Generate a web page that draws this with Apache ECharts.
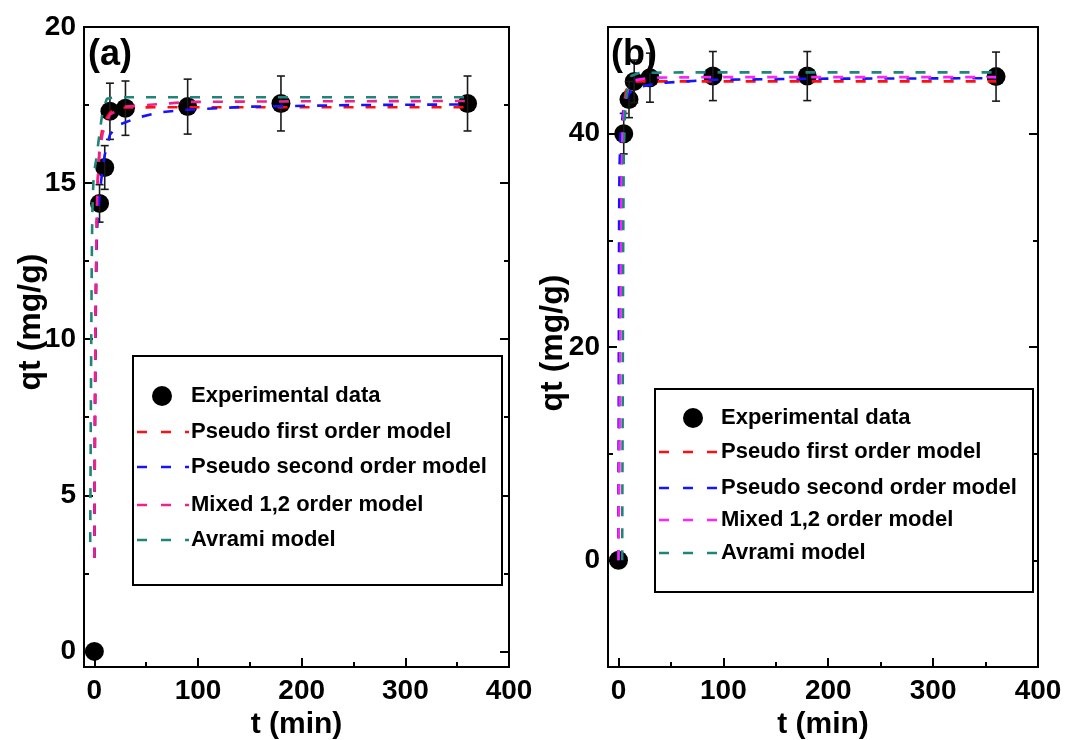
<!DOCTYPE html>
<html>
<head>
<meta charset="utf-8">
<script src="https://cdn.jsdelivr.net/npm/echarts@6/dist/echarts.min.js"></script>
<style>
  html, body { margin: 0; padding: 0; background: #fff; }
  #chart { width: 1067px; height: 740px; }
</style>
</head>
<body>
<div id="chart"></div>
<script>
// ---------- Panel (a) ----------
const expTimeA = [0, 5, 10, 15, 30, 90, 180, 360];
const expQtA   = [0, 14.35, 15.5, 17.3, 17.4, 17.45, 17.55, 17.55];
const expErrA  = [0, 0.6, 0.7, 0.9, 0.87, 0.88, 0.88, 0.88];

const pfoTimeA = [0, 0.5, 1, 2, 3, 5, 8, 11, 15, 20, 30, 60, 120, 200, 360];
const pfoQtA   = [3.0, 6.5, 9.5, 13.0, 14.8, 16.2, 16.8, 17.05, 17.25, 17.37, 17.42, 17.43, 17.43, 17.43, 17.43];

const psoTimeA = [0, 0.5, 1, 2, 3, 5, 8, 10, 15, 23, 42, 64, 90, 150, 250, 360];
const psoQtA   = [3.0, 7.0, 10.0, 12.8, 13.8, 14.6, 15.5, 15.9, 16.55, 16.86, 17.1, 17.27, 17.35, 17.45, 17.5, 17.52];

const mixTimeA = [0, 0.5, 1, 2, 3, 5, 8, 10, 15, 30, 90, 200, 360];
const mixQtA   = [3.0, 7.5, 10.5, 13.5, 15.0, 16.0, 16.6, 16.8, 17.2, 17.45, 17.6, 17.62, 17.63];

const avrTimeA = [-4, -3.5, -3, -2.5, -2, -1, 0, 2, 5, 8, 12, 20, 60, 200, 360];
const avrQtA   = [3.5, 7.0, 10.0, 12.5, 14.0, 15.0, 15.4, 15.8, 16.6, 17.3, 17.7, 17.75, 17.75, 17.75, 17.75];

// ---------- Panel (b) ----------
const expTimeB = [0, 5, 10, 15, 30, 90, 180, 360];
const expQtB   = [0, 40.0, 43.2, 44.9, 45.25, 45.4, 45.4, 45.35];
const expErrB  = [0, 1.9, 1.7, 2.0, 2.3, 2.3, 2.3, 2.3];

const pfoTimeB = [0, 0.5, 1, 1.5, 2, 3, 4, 5, 7, 10, 15, 20, 50, 360];
const pfoQtB   = [0, 10, 18, 25, 30, 37, 40.5, 42.5, 44.0, 44.6, 44.85, 44.9, 44.9, 44.9];

const psoTimeB = [0, 0.3, 0.6, 1, 2, 5, 10, 20, 40, 90, 180, 360];
const psoQtB   = [0, 20, 32, 37, 40, 42.5, 43.8, 44.4, 44.75, 45.05, 45.15, 45.2];

const mixTimeB = [0, 1, 2, 3, 4, 6, 10, 15, 30, 90, 360];
const mixQtB   = [0, 12, 25, 36, 40.5, 43, 44.5, 45.0, 45.25, 45.3, 45.3];

const avrTimeB = [3.5, 4, 4.5, 5, 6, 8, 12, 20, 60, 360];
const avrQtB   = [0, 15, 30, 38, 41.5, 44.0, 45.4, 45.7, 45.75, 45.75];

// ---------- Axis ticks and labels ----------
const xMajorTicks = [0, 100, 200, 300, 400];
const xMinorTicks = [50, 150, 250, 350];
const yMajorTicksA = [0, 5, 10, 15, 20];
const yMinorTicksA = [2.5, 7.5, 12.5, 17.5];
const yMajorTicksB = [0, 20, 40];
const yMinorTicksB = [10, 30];

const seriesNames = ['Experimental data', 'Pseudo first order model', 'Pseudo second order model', 'Mixed 1,2 order model', 'Avrami model'];
const colorsA = ['#000000', '#ff1010', '#1414ff', '#f0208c', '#1f857a'];
const colorsB = ['#000000', '#ff1010', '#1414ff', '#ff22ff', '#1f857a'];

const FONT = '"Liberation Sans", Arial, sans-serif';
const TICK_FONT = 28;
const TITLE_FONT = 30;
const LEGEND_FONT = 22;

function zip(xs, ys) { return xs.map((x, i) => [x, ys[i]]); }

const chart = echarts.init(document.getElementById('chart'), null, { renderer: 'canvas' });

const grids = [
  { left: 84, top: 27, width: 425, height: 640 },
  { left: 608, top: 27, width: 430, height: 640 }
];

function xAxesFor(gridIndex) {
  const base = {
    type: 'value', gridIndex, min: -10, max: 400, position: 'bottom',
    splitLine: { show: false }
  };
  return [
    Object.assign({}, base, {
      name: 't (min)', nameLocation: 'middle', nameGap: 40,
      nameTextStyle: { fontFamily: FONT, fontWeight: 'bold', fontSize: TITLE_FONT, color: '#000' },
      axisLine: { show: true, onZero: false, lineStyle: { color: '#000', width: 2 } },
      axisTick: { show: true, inside: true, length: 9, customValues: xMajorTicks, lineStyle: { color: '#000', width: 2 } },
      axisLabel: { show: true, customValues: xMajorTicks, margin: 10, fontFamily: FONT, fontWeight: 'bold', fontSize: TICK_FONT, color: '#000' }
    }),
    Object.assign({}, base, {
      axisLine: { show: false, onZero: false },
      axisTick: { show: true, inside: true, length: 5, customValues: xMinorTicks, lineStyle: { color: '#000', width: 2 } },
      axisLabel: { show: false }
    })
  ];
}

function yAxesFor(gridIndex, min, max, majors, minors) {
  const base = { type: 'value', gridIndex, min, max, splitLine: { show: false } };
  const axes = [];
  ['left', 'right'].forEach(pos => {
    axes.push(Object.assign({}, base, {
      position: pos,
      axisLine: { show: true, onZero: false, lineStyle: { color: '#000', width: 2 } },
      axisTick: { show: true, inside: true, length: 9, customValues: majors, lineStyle: { color: '#000', width: 2 } },
      axisLabel: pos === 'left'
        ? { show: true, customValues: majors, margin: 8, fontFamily: FONT, fontWeight: 'bold', fontSize: TICK_FONT, color: '#000' }
        : { show: false }
    }));
    axes.push(Object.assign({}, base, {
      position: pos,
      axisLine: { show: false, onZero: false },
      axisTick: { show: true, inside: true, length: 5, customValues: minors, lineStyle: { color: '#000', width: 2 } },
      axisLabel: { show: false }
    }));
  });
  return axes;
}

const xAxes = xAxesFor(0).concat(xAxesFor(1));          // indices 0,1 | 2,3
const yAxes = yAxesFor(0, -0.5, 20, yMajorTicksA, yMinorTicksA)   // 0..3
  .concat(yAxesFor(1, -10, 50, yMajorTicksB, yMinorTicksB));     // 4..7

function errorBarSeries(xIdx, yIdx, times, qts, errs) {
  const data = times.map((t, i) => [t, qts[i] - errs[i], qts[i] + errs[i]]).filter((d, i) => errs[i] > 0);
  return {
    type: 'custom', xAxisIndex: xIdx, yAxisIndex: yIdx, z: 3, silent: true,
    encode: { x: 0, y: [1, 2] },
    data,
    renderItem(params, api) {
      const lo = api.coord([api.value(0), api.value(1)]);
      const hi = api.coord([api.value(0), api.value(2)]);
      const cap = 4;
      const style = { stroke: '#1a1a1a', lineWidth: 1.6 };
      return {
        type: 'group',
        children: [
          { type: 'line', shape: { x1: lo[0], y1: lo[1], x2: hi[0], y2: hi[1] }, style },
          { type: 'line', shape: { x1: lo[0] - cap, y1: lo[1], x2: lo[0] + cap, y2: lo[1] }, style },
          { type: 'line', shape: { x1: hi[0] - cap, y1: hi[1], x2: hi[0] + cap, y2: hi[1] }, style }
        ]
      };
    }
  };
}

function scatterSeries(xIdx, yIdx, times, qts) {
  return {
    name: seriesNames[0], type: 'scatter', xAxisIndex: xIdx, yAxisIndex: yIdx, z: 2,
    symbol: 'circle', symbolSize: 19, itemStyle: { color: '#000', opacity: 1 },
    data: zip(times, qts)
  };
}

function modelSeries(xIdx, yIdx, name, color, times, qts) {
  return {
    name, type: 'line', xAxisIndex: xIdx, yAxisIndex: yIdx, z: 4,
    showSymbol: false, symbol: 'none', smooth: false, silent: true,
    lineStyle: { color, width: 2.6, type: [10, 12] },
    data: zip(times, qts)
  };
}

const series = [
  scatterSeries(0, 0, expTimeA, expQtA),
  errorBarSeries(0, 0, expTimeA, expQtA, expErrA),
  modelSeries(0, 0, seriesNames[1], colorsA[1], pfoTimeA, pfoQtA),
  modelSeries(0, 0, seriesNames[2], colorsA[2], psoTimeA, psoQtA),
  modelSeries(0, 0, seriesNames[3], colorsA[3], mixTimeA, mixQtA),
  modelSeries(0, 0, seriesNames[4], colorsA[4], avrTimeA, avrQtA),

  scatterSeries(2, 4, expTimeB, expQtB),
  errorBarSeries(2, 4, expTimeB, expQtB, expErrB),
  modelSeries(2, 4, seriesNames[1], colorsB[1], pfoTimeB, pfoQtB),
  modelSeries(2, 4, seriesNames[2], colorsB[2], psoTimeB, psoQtB),
  modelSeries(2, 4, seriesNames[3], colorsB[3], mixTimeB, mixQtB),
  modelSeries(2, 4, seriesNames[4], colorsB[4], avrTimeB, avrQtB)
];

// Framed legend box drawn with graphic elements
function legendBox(box, marker, rows, textX, colors) {
  const els = [{
    type: 'rect', shape: { x: box.x, y: box.y, width: box.w, height: box.h },
    style: { fill: '#fff', stroke: '#000', lineWidth: 2 }, z: 10
  }, {
    type: 'circle', shape: { cx: marker.x, cy: marker.y, r: 10 }, style: { fill: '#000' }, z: 11
  }, {
    type: 'text', x: textX, y: marker.y, z: 11,
    style: { text: seriesNames[0], fontFamily: FONT, fontWeight: 'bold', fontSize: LEGEND_FONT, fill: '#000', verticalAlign: 'middle' }
  }];
  rows.forEach((y, i) => {
    els.push({
      type: 'line', z: 11,
      shape: { x1: box.x + 4, y1: y, x2: textX - 2, y2: y },
      style: { stroke: colors[i + 1], lineWidth: 2.4, lineDash: [10, 14] }
    });
    els.push({
      type: 'text', x: textX, y, z: 11,
      style: { text: seriesNames[i + 1], fontFamily: FONT, fontWeight: 'bold', fontSize: LEGEND_FONT, fill: '#000', verticalAlign: 'middle' }
    });
  });
  return els;
}

const graphics = []
  .concat(legendBox({ x: 133, y: 356, w: 369, h: 229 }, { x: 162, y: 396 }, [432, 467, 505, 540], 191, colorsA))
  .concat(legendBox({ x: 655, y: 389, w: 378, h: 203 }, { x: 693, y: 418 }, [452, 488, 520, 553], 721, colorsB))
  .concat([
    { type: 'text', x: 88, y: 55, z: 12, style: { text: '(a)', fontFamily: FONT, fontWeight: 'bold', fontSize: 36, fill: '#000', verticalAlign: 'middle' } },
    { type: 'text', x: 611, y: 55, z: 12, style: { text: '(b)', fontFamily: FONT, fontWeight: 'bold', fontSize: 36, fill: '#000', verticalAlign: 'middle' } },
    { type: 'text', x: 31, y: 322, rotation: Math.PI / 2, z: 12, style: { text: 'qt (mg/g)', fontFamily: FONT, fontWeight: 'bold', fontSize: 32, fill: '#000', align: 'center', verticalAlign: 'middle' } },
    { type: 'text', x: 553, y: 343, rotation: Math.PI / 2, z: 12, style: { text: 'qt (mg/g)', fontFamily: FONT, fontWeight: 'bold', fontSize: 32, fill: '#000', align: 'center', verticalAlign: 'middle' } }
  ]);

chart.setOption({
  animation: false,
  backgroundColor: '#fff',
  grid: grids.map(g => Object.assign({
    show: true, borderColor: '#000', borderWidth: 2, backgroundColor: 'transparent',
    containLabel: false, outerBoundsMode: 'none'
  }, g)),
  xAxis: xAxes,
  yAxis: yAxes,
  series,
  graphic: graphics
});
</script>
</body>
</html>
